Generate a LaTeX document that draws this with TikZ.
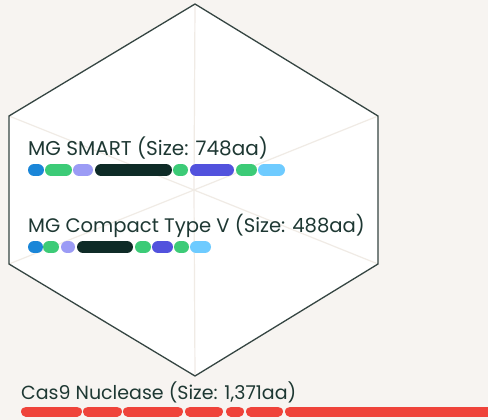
\documentclass[tikz,border=0pt]{standalone}
\usepackage{fontspec}
\setmainfont{Poppins}
\usetikzlibrary{positioning}
\definecolor{HexBack}{RGB}{247,244,241}
\definecolor{HexSpoke}{RGB}{240,235,229}
\definecolor{HexEdge}{RGB}{53,69,66}
\definecolor{LabelInk}{RGB}{30,56,51}
\definecolor{DomBlue}{RGB}{26,134,216}
\definecolor{DomGreen}{RGB}{60,203,119}
\definecolor{DomLav}{RGB}{155,155,245}
\definecolor{DomDark}{RGB}{14,43,39}
\definecolor{DomIndigo}{RGB}{82,82,221}
\definecolor{DomSky}{RGB}{110,203,255}
\definecolor{DomRed}{RGB}{239,67,58}
\tikzset{
	lbl/.style={anchor=base west,inner sep=0pt,text=LabelInk,font=\fontsize{19.6}{23}\selectfont},
	pill/.style={draw=#1,line width=12pt,line cap=round},
	redpill/.style={draw=DomRed,line width=10pt,line cap=round},
}

\begin{document}
\begin{tikzpicture}[x=1pt,y=-1pt]
					\fill[HexBack] (0,0) rectangle (488,420);
					\useasboundingbox (0,0) rectangle (488,420);
					\coordinate (top) at (195,4);
					\coordinate (ul) at (9,116);
					\coordinate (ur) at (378,116);
					\coordinate (ll) at (9,264);
					\coordinate (lr) at (378,264);
					\coordinate (bot) at (195,376);
					\coordinate (mid) at (194,190);
					\fill[white] (top) -- (ur) -- (lr) -- (bot) -- (ll) -- (ul) -- cycle;
					\foreach \p in {top,ul,ur,ll,lr,bot} \draw[HexSpoke,line width=1.2pt] (mid) -- (\p);
					\draw[HexEdge,line width=1.3pt,line join=round]
					(top) -- (ur) -- (lr) -- (bot) -- (ll) -- (ul) -- cycle;
					% MG SMART
					\node[lbl,font=\fontsize{20}{23}\selectfont] (smart) at (28,156) {MG SMART (Size: 748aa)};
					\foreach \a/\b/\c in {28/44/DomBlue,45/72/DomGreen,73/93/DomLav,95/172/DomDark,
						173/188/DomGreen,190/234/DomIndigo,236/257/DomGreen,258/285/DomSky}
					\draw[pill=\c] (\a+6,170) -- (\b-6,170);
					% MG Compact Type V
					\node[lbl] (compact) at (28,233) {MG Compact Type V (Size: 488aa)};
					\foreach \a/\b/\c in {28/43/DomBlue,43/59/DomGreen,61/75/DomLav,77/133/DomDark,
						135/151/DomGreen,152/173/DomIndigo,174/189/DomGreen,190/211/DomSky}
					\draw[pill=\c] (\a+6,247) -- (\b-6,247);
					% Cas9
					\node[lbl,font=\fontsize{19}{22}\selectfont] (cas) at (21,399) {Cas9 Nuclease (Size: 1,371aa)};
					\foreach \a/\b in {21/82,83/122,123/183,185/223,226/244,246/283,285/520}
					\draw[redpill] (\a+5,411.5) -- (\b-5,411.5);
				\end{tikzpicture}
\end{document}
